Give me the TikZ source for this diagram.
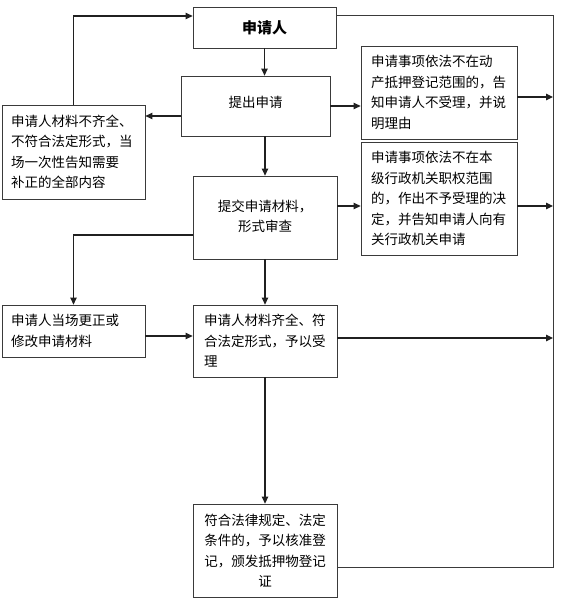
\documentclass[tikz,border=0pt]{standalone}
\usepackage{fontspec}
\setmainfont{Noto Sans CJK SC}
\usetikzlibrary{arrows.meta}
\definecolor{boxc}{HTML}{3A3A3A}
\definecolor{linec}{HTML}{202020}
\begin{document}
\begin{tikzpicture}[x=1pt,y=-1pt,
  box/.style={draw=boxc, line width=0.8pt, inner ysep=0pt, font=\fontsize{13.5}{20.5}\selectfont},
  arr/.style={draw=linec, line width=1.2pt, -{Triangle[length=7pt,width=6.5pt]}},
  ln/.style={draw=boxc, line width=1pt, line join=miter}]
\useasboundingbox[fill=white] (0,0) rectangle (569,610);

\node[box, minimum width=143pt, minimum height=41pt, inner xsep=0pt, font=\fontsize{15}{18}\selectfont\bfseries] (app) at (264.5,27.5) {申请人};
\node[box, minimum width=149pt, minimum height=60pt, inner xsep=0pt] (sub) at (255.5,106) {\raisebox{8pt}{提出申请}};
\node[box, text width=125pt, inner xsep=9pt, align=left, minimum height=94pt] (left1) at (73.5,152) {申请人材料不齐全、\\不符合法定形式，当\\场一次性告知需要\\补正的全部内容};
\node[box, text width=136pt, inner xsep=10pt, align=left, minimum height=93pt] (r1) at (439,92.5) {申请事项依法不在动\\产抵押登记范围的，告\\知申请人不受理，并说\\明理由};
\node[box, text width=136pt, inner xsep=10pt, align=left, minimum height=113pt] (r2) at (439,198.5) {申请事项依法不在本\\级行政机关职权范围\\的，作出不予受理的决\\定，并告知申请人向有\\关行政机关申请};
\node[box, minimum width=144pt, minimum height=83pt, inner xsep=0pt] (chk) at (265,217.5) {\raisebox{-5.5pt}{\begin{tabular}{@{}c@{}}提交申请材料，\\形式审查\end{tabular}}};
\node[box, text width=125pt, inner xsep=9pt, align=left, minimum height=52pt] (left2) at (73.5,331) {申请人当场更正或\\修改申请材料};
\node[box, text width=122pt, inner xsep=11pt, align=left, minimum height=72pt] (accept) at (265,341) {申请人材料齐全、符\\合法定形式，予以受\\理};
\node[box, text width=130pt, inner xsep=7pt, align=center, minimum height=93pt] (final) at (265,550.5) {符合法律规定、法定\\条件的，予以核准登\\记，颁发抵押物登记\\证};

\coordinate (tr) at (553,16);
\coordinate (br) at (553,567);

\draw[arr] (app.south) -- (app.south |- sub.north);
\draw[arr] (chk.north |- sub.south) -- (chk.north);
\draw[arr] (chk.south) -- (accept.north);
\draw[arr] (accept.south) -- (final.north);

\coordinate (s1) at ([yshift=-10pt]sub.west);
\draw[arr] (s1) -- (s1 -| left1.east);
\draw[arr] (sub.east) -- (sub.east -| r1.west);

\coordinate (aw) at ([yshift=11.5pt]app.west);
\draw[arr] (left1.north) |- (aw);

\coordinate (ae) at ([yshift=11.5pt]app.east);
\coordinate (fe) at (final.east |- br);
\draw[ln] (ae) -- (tr) -- (br) -- (fe);

\coordinate (r1e) at ([yshift=-4.5pt]r1.east);
\draw[arr] (r1e) -- (r1e -| tr);
\coordinate (c1) at ([yshift=11.5pt]chk.east);
\draw[arr] (c1) -- (c1 -| r2.west);
\coordinate (r2e) at ([yshift=-7.5pt]r2.east);
\draw[arr] (r2e) -- (r2e -| tr);
\coordinate (c2) at ([yshift=-17.5pt]chk.west);
\draw[arr] (c2) -| (left2.north);
\coordinate (l2e) at ([yshift=-5pt]left2.east);
\draw[arr] (l2e) -- (l2e -| accept.west);
\coordinate (ace) at ([yshift=3pt]accept.east);
\draw[arr] (ace) -- (ace -| tr);
\end{tikzpicture}
\end{document}
